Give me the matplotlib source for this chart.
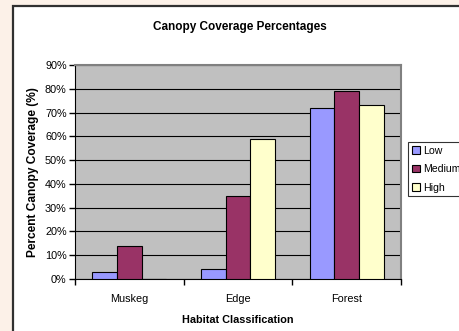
import matplotlib.pyplot as plt
from matplotlib.patches import Rectangle, Patch
import numpy as np

plt.rcParams['font.family'] = ['Liberation Sans', 'DejaVu Sans']

categories = ['Muskeg', 'Edge', 'Forest']
series_names = ['Low', 'Medium', 'High']
low = [3, 4, 72]
medium = [14, 35, 79]
high = [0, 59, 73]
colors = ['#9999FF', '#993366', '#FFFFCC']

fig = plt.figure(figsize=(4.6, 3.31), dpi=100)
fig.patch.set_facecolor('#FCF1E8')

# weisser Rahmen der Excel-Grafik (rechts und unten abgeschnitten)
frame = Rectangle((13 / 460, -0.05), 1.0, 1 - 6 / 331 + 0.05, transform=fig.transFigure,
                  facecolor='white', edgecolor='#303030', linewidth=1.6, zorder=-1)
fig.patches.append(frame)

ax = fig.add_axes([75 / 460, 1 - 279 / 331, 326 / 460, 214 / 331])
ax.set_facecolor('#C0C0C0')

x = np.arange(len(categories))
w = 0.226
for i, (vals, name) in enumerate(zip([low, medium, high], series_names)):
    ax.bar(x + (i - 1) * w, vals, w, color=colors[i], edgecolor='black', linewidth=0.8,
           label=name, zorder=3)

ax.set_xlim(-0.5, 2.5)
ax.set_ylim(0, 90)
ax.set_yticks(range(0, 91, 10))
ax.set_yticklabels([f'{v}%' for v in range(0, 91, 10)], fontsize=7.8)
ax.yaxis.grid(True, color='black', linewidth=0.8)
ax.set_axisbelow(True)

ax.set_xticks(x)
ax.set_xticklabels(categories, fontsize=7.8)
ax.tick_params(axis='x', which='major', length=0, pad=11)
ax.set_xticks([-0.5, 0.5, 1.5, 2.5], minor=True)
ax.tick_params(axis='x', which='minor', length=4, width=1, direction='out')
ax.tick_params(axis='y', length=4, width=1, direction='out', pad=2)

for s in ['top', 'right']:
    ax.spines[s].set_color('#808080')
    ax.spines[s].set_linewidth(1.5)
ax.spines['left'].set_color('black')
ax.spines['bottom'].set_color('black')

ax.set_xlabel('Habitat Classification', fontsize=7.8, fontweight='bold', labelpad=8)
ax.set_ylabel('Percent Canopy Coverage (%)', fontsize=8.6, fontweight='bold', labelpad=4)
fig.text(240 / 460, 1 - 27 / 331, 'Canopy Coverage Percentages', fontsize=8.5,
         fontweight='bold', ha='center', va='center')

handles = [Patch(facecolor=c, edgecolor='black', linewidth=0.8) for c in colors]
leg = ax.legend(handles, series_names, loc='upper left',
                bbox_to_anchor=(408 / 460, 1 - 142 / 331), bbox_transform=fig.transFigure,
                fontsize=7.6, frameon=True, fancybox=False, borderpad=0.35,
                handlelength=0.75, handleheight=0.75, handletextpad=0.3,
                labelspacing=0.8, borderaxespad=0)
leg.get_frame().set_edgecolor('black')
leg.get_frame().set_linewidth(0.8)

fig.savefig('out.png', dpi=100, facecolor=fig.get_facecolor())
